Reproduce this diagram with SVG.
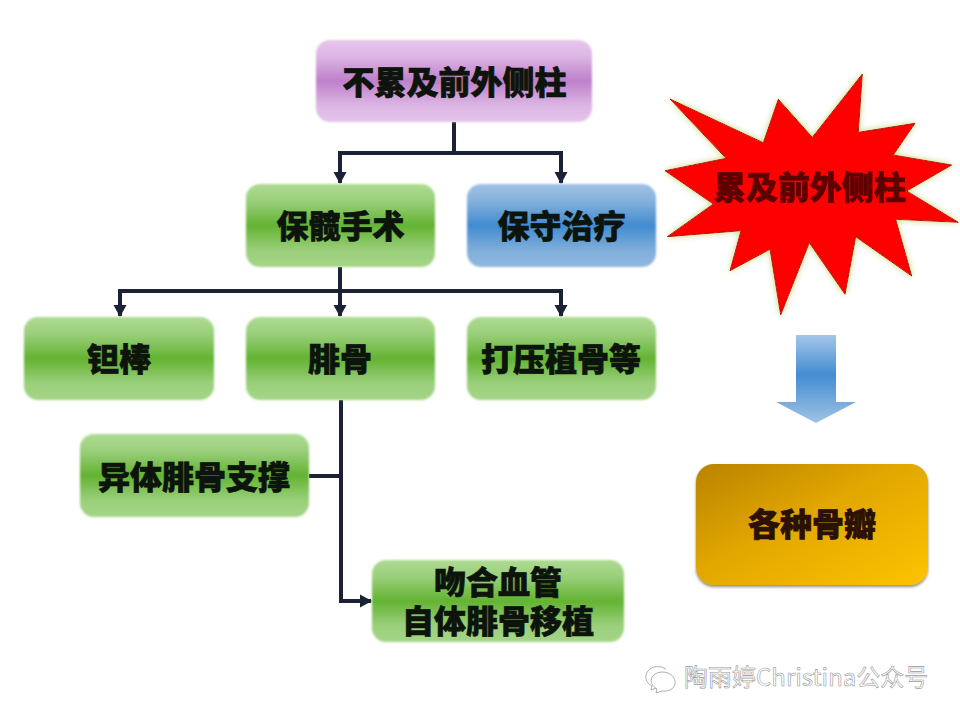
<svg xmlns="http://www.w3.org/2000/svg" width="960" height="720" viewBox="0 0 960 720">
<style>
.t{font-family:"Noto Sans CJK SC","Noto Sans",sans-serif;font-weight:900;font-size:32px;fill:#0c140c;text-anchor:middle;stroke:#0c140c;stroke-width:.7px}
.c{fill:none;stroke:#1b2238;stroke-width:4}
.a{fill:#1b2238}
.g{fill:url(#green);filter:url(#soft)}
</style>
<defs>
<linearGradient id="green" x1="0" y1="0" x2="0" y2="1"><stop offset="0" stop-color="#aedb92"/><stop offset=".2" stop-color="#9bcf7c"/><stop offset=".5" stop-color="#63b332"/><stop offset=".8" stop-color="#9bcf7c"/><stop offset="1" stop-color="#a4d586"/></linearGradient>
<linearGradient id="purple" x1="0" y1="0" x2="0" y2="1"><stop offset="0" stop-color="#e6c6ec"/><stop offset=".2" stop-color="#dcb6e3"/><stop offset=".5" stop-color="#bf7fcb"/><stop offset=".8" stop-color="#dcb6e3"/><stop offset="1" stop-color="#e4c4ea"/></linearGradient>
<linearGradient id="blue" x1="0" y1="0" x2="0" y2="1"><stop offset="0" stop-color="#a0c2e4"/><stop offset=".2" stop-color="#86b2dc"/><stop offset=".5" stop-color="#418bd0"/><stop offset=".8" stop-color="#80aedb"/><stop offset="1" stop-color="#8fb8df"/></linearGradient>
<linearGradient id="arrowfill" x1="0" y1="0" x2="0" y2="1"><stop offset="0" stop-color="#a5c6e8"/><stop offset=".45" stop-color="#428dd2"/><stop offset="1" stop-color="#a0c2e4"/></linearGradient>
<linearGradient id="gold" x1="0" y1="0" x2="1" y2="1"><stop offset="0" stop-color="#b98304"/><stop offset=".45" stop-color="#e2a703"/><stop offset="1" stop-color="#fdc300"/></linearGradient>
<filter id="soft" x="-5%" y="-5%" width="110%" height="110%"><feGaussianBlur stdDeviation=".8"/></filter>
<filter id="shadow" x="-5%" y="-5%" width="110%" height="115%"><feDropShadow dx="0" dy="2" stdDeviation="1.5" flood-color="#6b5a30" flood-opacity=".7"/></filter>
<filter id="glow" x="-5%" y="-5%" width="110%" height="110%"><feDropShadow dx="0" dy="0" stdDeviation="3" flood-color="#c4d67f" flood-opacity="1"/></filter>
<filter id="tb"><feGaussianBlur stdDeviation=".4"/></filter>
<marker id="head" markerUnits="userSpaceOnUse" markerWidth="13" markerHeight="14" refX="11" refY="7" orient="auto"><path class="a" d="M0 0.500L12 7L0 13.500Z"/></marker>
</defs>
<rect width="960" height="720" fill="#fff"/>
<g id="connectors">
<path class="c" d="M454 122V153"/>
<path class="c" d="M340 183V153H561V183" marker-end="url(#head)"/>
<path class="c" d="M340 153V183" marker-end="url(#head)"/>
<path class="c" d="M340 267V316" marker-end="url(#head)"/>
<path class="c" d="M120 316V291H561V316" marker-end="url(#head)"/>
<path class="c" d="M120 291V316" marker-end="url(#head)"/>
<path class="c" d="M341 400V601H371" marker-end="url(#head)"/>
<path class="c" d="M309 476H341"/>
</g>
<g id="n-top"><rect x="316" y="40" width="276" height="82" rx="14" fill="url(#purple)" filter="url(#soft)"/><text class="t" x="454.500" y="94">不累及前外侧柱</text></g>
<g id="n-limb"><rect class="g" x="246" y="184" width="189" height="83" rx="14"/><text class="t" x="340.500" y="238">保髋手术</text></g>
<g id="n-cons"><rect x="467" y="184" width="189" height="83" rx="14" fill="url(#blue)" filter="url(#soft)"/><text class="t" x="561.500" y="238">保守治疗</text></g>
<g id="n-rod"><rect class="g" x="24" y="317" width="190" height="83" rx="14"/><text class="t" x="119" y="371">钽棒</text></g>
<g id="n-fibula"><rect class="g" x="246" y="317" width="189" height="83" rx="14"/><text class="t" x="340" y="371">腓骨</text></g>
<g id="n-impact"><rect class="g" x="467" y="317" width="189" height="83" rx="14"/><text class="t" x="561" y="371">打压植骨等</text></g>
<g id="n-allo"><rect class="g" x="80" y="434" width="229" height="83" rx="14"/><text class="t" x="194" y="489">异体腓骨支撑</text></g>
<g id="n-vasc"><rect class="g" x="372" y="560" width="252" height="82" rx="14"/><text class="t" y="594"><tspan x="498">吻合血管</tspan><tspan x="498" dy="39">自体腓骨移植</tspan></text></g>
<g id="n-burst"><polygon points="670,99 763.300,142.700 778.300,99.300 812.300,137.300 862.300,74 858.300,132.300 915,123.300 893.300,155 951.700,165 906.700,191 958.300,222.300 895.700,219.300 911.700,276 855.700,236.700 845,294.300 809.300,242.700 780.700,315 770,249.300 730,270.700 741,230.700 667.300,236.700 713.300,204 665,170.700 726,158.300" fill="#fe0000" stroke="#b50d0d" stroke-width="1" filter="url(#glow)"/><text class="t" x="810" y="199" style="fill:#5c0606;stroke:#5c0606" filter="url(#tb)">累及前外侧柱</text></g>
<g id="n-arrow"><path d="M796 335H836V402H856L816 423L776 402H796Z" fill="url(#arrowfill)"/></g>
<g id="n-flap"><rect x="696" y="464" width="232" height="121" rx="18" fill="url(#gold)" filter="url(#shadow)"/><text class="t" x="812" y="536" style="fill:#2a1005;stroke:#2a1005">各种骨瓣</text></g>
<g id="watermark" fill="#fff" stroke="#9a9a9a" stroke-width=".8">
<path d="M666 669C658 664 648 667 646 675C645 680 648 684 652 686L651 690L656 688C658 689 660 689 662 688"/>
<path d="M662 672C671 672 676 678 675 684C674 689 668 692 662 691L656 693L657 689C652 686 650 682 652 677C654 674 658 672 662 672Z"/>
<text x="684" y="686" style="font-family:'Noto Sans CJK SC','Noto Sans',sans-serif;font-size:24px;font-weight:400" stroke-width=".6">陶雨婷Christina公众号</text>
</g>
</svg>
